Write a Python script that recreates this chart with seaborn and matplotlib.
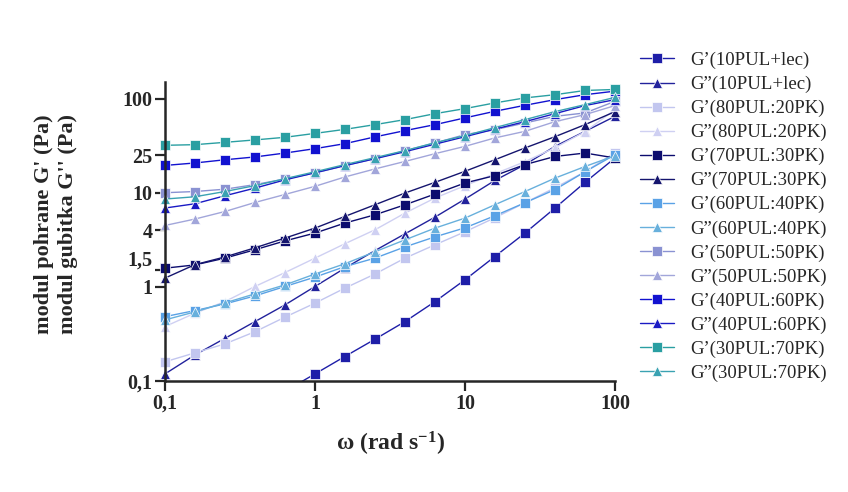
import numpy as np
import pandas as pd
import matplotlib
matplotlib.use("Agg")
import matplotlib.pyplot as plt
from matplotlib.ticker import NullLocator
import seaborn as sns

# frekvencija (rad/s)
omega = [0.1, 0.158, 0.251, 0.398, 0.631, 1, 1.58, 2.51, 3.98, 6.31,
         10, 15.8, 25.1, 39.8, 63.1, 100]

nan = np.nan
gp_10lec = [nan, nan, nan, nan, 0.078, 0.119, 0.182, 0.278, 0.428, 0.698,
            1.19, 2.10, 3.73, 6.88, 12.9, 23.4]
gpp_10lec = [0.119, 0.189, 0.284, 0.428, 0.644, 1.01, 1.58, 2.43, 3.66, 5.51,
             8.57, 13.5, 19.9, 31.1, 44.9, 64.8]
gp_80_20 = [0.160, 0.199, 0.248, 0.334, 0.477, 0.672, 0.969, 1.37, 2.02, 2.80,
            3.85, 5.42, 7.83, 11.3, 16.7, 26.7]
gpp_80_20 = [0.379, 0.525, 0.698, 1.01, 1.42, 2.02, 2.87, 4.04, 6.08, 8.79,
             11.9, 15.9, 21.4, 30.1, 44.6, 76.4]
gp_70_30 = [1.58, 1.71, 2.02, 2.48, 3.08, 3.73, 4.76, 5.83, 7.45, 9.69,
            12.7, 15.2, 19.9, 24.3, 26.4, 23.4]
gpp_70_30 = [1.24, 1.72, 2.08, 2.60, 3.30, 4.21, 5.60, 7.45, 9.93, 12.9,
             16.9, 22.4, 29.9, 39.4, 52.9, 72.7]
gp_60_40 = [0.483, 0.560, 0.659, 0.802, 1.01, 1.27, 1.64, 2.02, 2.66, 3.40,
            4.24, 5.69, 7.83, 10.8, 16.7, 25.4]
gpp_60_40 = [0.446, 0.542, 0.676, 0.843, 1.05, 1.37, 1.76, 2.36, 3.16, 4.21,
             5.38, 7.45, 10.3, 14.3, 19.0, 24.8]
gp_50_50 = [10.0, 10.3, 10.9, 12.2, 14.0, 16.2, 19.4, 23.0, 28.0, 33.8,
            41.4, 46.8, 55.1, 64.8, 70.4, 93.6]
gpp_50_50 = [4.49, 5.25, 6.32, 7.88, 9.59, 11.7, 14.7, 17.9, 21.5, 26.0,
             31.1, 38.2, 44.9, 56.9, 67.6, 84.3]
gp_40_60 = [19.5, 20.7, 22.4, 24.0, 26.4, 29.4, 33.2, 39.2, 45.7, 52.9,
            62.4, 73.3, 84.9, 97.5, 110, 120]
gpp_40_60 = [6.88, 7.63, 9.29, 11.2, 13.7, 16.3, 19.4, 23.0, 27.3, 32.8,
             39.4, 47.4, 56.9, 69.2, 84.3, 97.5]
gp_30_70 = [31.9, 32.4, 34.3, 36.4, 38.8, 42.7, 47.1, 52.9, 59.8, 69.2,
            78.3, 90.0, 101.7, 110, 122, 125]
gpp_30_70 = [8.57, 9.06, 10.3, 11.9, 14.1, 16.7, 19.9, 23.6, 28.0, 34.0,
             40.4, 49.1, 59.8, 72.7, 86.3, 103]

labels = ["G’(10PUL+lec)", "G”(10PUL+lec)",
          "G’(80PUL:20PK)", "G”(80PUL:20PK)",
          "G’(70PUL:30PK)", "G”(70PUL:30PK)",
          "G’(60PUL:40PK)", "G”(60PUL:40PK)",
          "G’(50PUL:50PK)", "G”(50PUL:50PK)",
          "G’(40PUL:60PK)", "G”(40PUL:60PK)",
          "G’(30PUL:70PK)", "G”(30PUL:70PK)"]
series = [gp_10lec, gpp_10lec, gp_80_20, gpp_80_20, gp_70_30, gpp_70_30,
          gp_60_40, gpp_60_40, gp_50_50, gpp_50_50, gp_40_60, gpp_40_60,
          gp_30_70, gpp_30_70]
colors = ["#1e1ea8", "#22229c", "#c2c6ef", "#cfd0f2", "#0c0c6e", "#15156e",
          "#5aa2e6", "#68b0dc", "#8a92d2", "#a2a6da", "#1212d0", "#1a1ac4",
          "#2a9fa2", "#3aa2b2"]

rows = []
for lab, vals in zip(labels, series):
    for w, v in zip(omega, vals):
        rows.append({"omega": w, "G": v, "serija": lab})
df = pd.DataFrame(rows).dropna()

sns.set_style("ticks")
plt.rcParams["font.family"] = ["Liberation Serif", "DejaVu Serif"]
plt.rcParams["mathtext.fontset"] = "custom"
plt.rcParams["mathtext.rm"] = "Liberation Serif:bold"
plt.rcParams["mathtext.default"] = "rm"

fig = plt.figure(figsize=(8.48, 4.92), dpi=100)
ax = fig.add_axes([0.1946, 0.2256, 0.5307, 0.6077])

markers = {lab: ("s" if i % 2 == 0 else "^") for i, lab in enumerate(labels)}
sns.lineplot(data=df, x="omega", y="G", hue="serija", style="serija",
             hue_order=labels, style_order=labels,
             palette=dict(zip(labels, colors)), markers=markers, dashes=False,
             estimator=None, sort=False, linewidth=1.0, markersize=7,
             markeredgewidth=0.5, ax=ax)

ax.set_xscale("log")
ax.set_yscale("log")
ax.set_xlim(0.1, 100)
ax.set_ylim(0.1, 150)
for i, ln in enumerate(ax.lines[:len(labels)]):
    if i != 0:
        ln.set_clip_on(False)

ax.set_xticks([0.1, 1, 10, 100])
ax.set_xticklabels(["0,1", "1", "10", "100"])
ax.set_yticks([0.1, 1, 1.5, 4, 10, 25, 100])
ax.set_yticklabels(["0,1", "1", "1,5", "4", "10", "25", "100"])
ax.xaxis.set_minor_locator(NullLocator())
ax.yaxis.set_minor_locator(NullLocator())
ax.tick_params(axis="both", length=7, width=1.6, labelsize=14.5, pad=2)
for t in ax.get_xticklabels() + ax.get_yticklabels():
    t.set_fontweight("bold")
# "1,5" malo iznad da se ne preklapa s "1"
ax.get_yticklabels()[2].set_verticalalignment("bottom")

sns.despine(ax=ax)
ax.spines["left"].set_linewidth(1.8)
ax.spines["bottom"].set_linewidth(1.8)

ax.set_xlabel(r"ω (rad s$^{-1}$)", fontsize=17, fontweight="bold", labelpad=12)
ax.set_ylabel("")
fig.text(0.066, 0.545, "modul pohrane G' (Pa)\nmodul gubitka G'' (Pa)",
         rotation=90, ha="center", va="center", fontsize=16,
         fontweight="bold", multialignment="center", linespacing=1.3)

sns.move_legend(ax, loc="upper left", bbox_to_anchor=(0.746, 0.91),
                bbox_transform=fig.transFigure, frameon=False, title=None,
                fontsize=13.5, labelspacing=0.36, handlelength=1.8,
                handletextpad=0.9, borderaxespad=0)

fig.savefig("out.png", dpi=100)
